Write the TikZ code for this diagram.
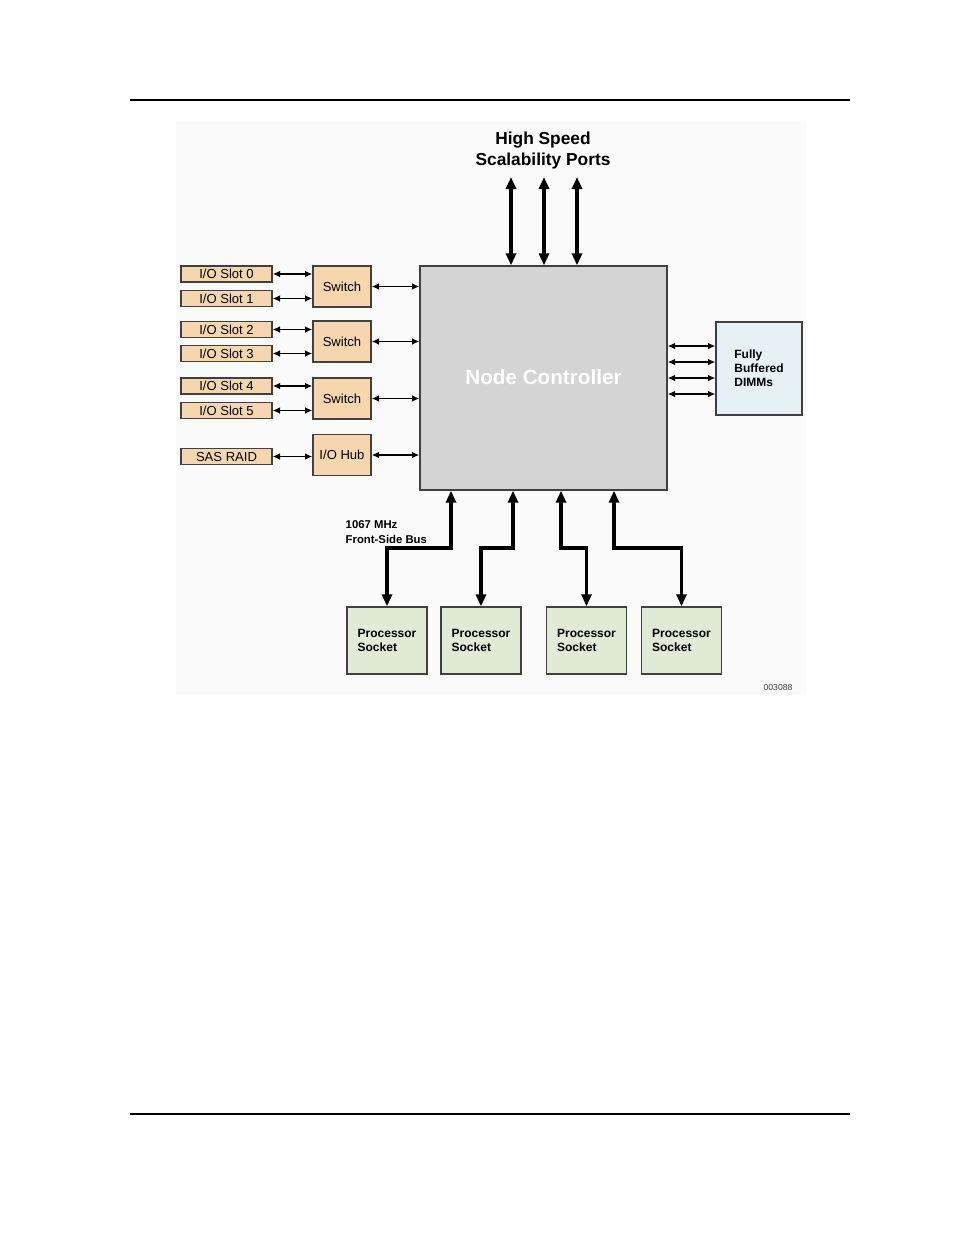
\documentclass[tikz,border=0pt]{standalone}
\usepackage{fontspec}
\setmainfont{Liberation Sans}
\usetikzlibrary{arrows.meta, positioning, calc}
\definecolor{cSlot}{RGB}{245, 214, 174}
\definecolor{cNode}{RGB}{212, 212, 212}
\definecolor{cDimm}{RGB}{229, 241, 245}
\definecolor{cCpu}{RGB}{224, 234, 213}
\definecolor{bBox}{RGB}{64, 64, 64}
\definecolor{cBack}{RGB}{250, 250, 250}

\begin{document}
\begin{tikzpicture}[
    x=0.75pt, y=-0.75pt,
    font=\fontsize{9.8}{11}\selectfont,
    block/.style={
        draw=bBox,
        line width=1pt,
        fill=#1,
        align=center,
        inner sep=0pt
    },
    slot/.style={block=cSlot, minimum width=68.25pt, minimum height=12pt},
    switchbox/.style={block=cSlot, minimum width=43.5pt, minimum height=30.75pt},
    cpu/.style={block=cCpu, minimum width=60pt, minimum height=50.25pt,
        align=left, font=\fontsize{9}{10.5}\selectfont\bfseries},
    arr/.style={{Latex[length=5.5pt,width=5pt]}-{Latex[length=5.5pt,width=5pt]}, line width=1pt},
    bigarr/.style={{Triangle[length=9pt,width=7.5pt]}-{Triangle[length=9pt,width=7.5pt]}, line width=2.6pt}
]
\useasboundingbox (0,0) rectangle (954,1235);

% page rules
\draw[line width=0.8pt] (130,100) -- (850,100);
\draw[line width=0.8pt] (130,1114) -- (850,1114);
\fill[cBack] (176,122) rectangle (806,694);

\node[font=\fontsize{13}{15.75}\selectfont\bfseries, align=center] (title) at (543,151) {High Speed\\Scalability Ports};

% Node controller
\node[block=cNode, minimum width=185.25pt, minimum height=168pt,
      font=\fontsize{15.5}{17}\selectfont\bfseries, text=white] (nc) at (543.5,378) {\raisebox{2pt}{Node Controller}};

% I/O slots
\node[slot] (slot0) at (226.5,274) {I/O Slot 0};
\node[slot] (slot1) at (226.5,298.5) {I/O Slot 1};
\node[slot] (slot2) at (226.5,329.5) {I/O Slot 2};
\node[slot] (slot3) at (226.5,353.5) {I/O Slot 3};
\node[slot] (slot4) at (226.5,386) {I/O Slot 4};
\node[slot] (slot5) at (226.5,410.5) {I/O Slot 5};
\node[slot] (raid) at (226.5,456.5) {SAS RAID};

\node[switchbox] (sw1) at (342,286.5) {Switch};
\node[switchbox] (sw2) at (342,341.5) {Switch};
\node[switchbox] (sw3) at (342,398.5) {Switch};
\node[switchbox] (hub) at (342,455) {I/O Hub};

\draw[arr] (slot0.east) -- (slot0.east -| sw1.west);
\draw[arr] (slot1.east) -- (slot1.east -| sw1.west);
\draw[arr] (slot2.east) -- (slot2.east -| sw2.west);
\draw[arr] (slot3.east) -- (slot3.east -| sw2.west);
\draw[arr] (slot4.east) -- (slot4.east -| sw3.west);
\draw[arr] (slot5.east) -- (slot5.east -| sw3.west);
\draw[arr] (raid.east) -- (raid.east -| hub.west);

\foreach \s in {sw1, sw2, sw3, hub}
    \draw[arr] (\s.east) -- (\s.east -| nc.west);

% Scalability ports
\foreach \xx in {511, 544, 577}
    \draw[bigarr] (\xx,177) -- (\xx,177 |- nc.north);

% DIMMs
\node[block=cDimm, minimum width=64.5pt, minimum height=69.75pt, align=left,
      font=\fontsize{9}{10.5}\selectfont\bfseries] (dimm) at (759,368.5) {Fully\\Buffered\\DIMMs};

\foreach \yy in {346, 362, 378, 394}
    \draw[arr] (nc.east |- 0,\yy) -- (dimm.west |- 0,\yy);

% Processor sockets
\node[cpu] (cpu1) at (387,640.5) {Processor\\Socket};
\node[cpu] (cpu2) at (481,640.5) {Processor\\Socket};
\node[cpu] (cpu3) at (586.5,640.5) {Processor\\Socket};
\node[cpu] (cpu4) at (681.5,640.5) {Processor\\Socket};

\coordinate (f1) at (451,548);
\coordinate (f2) at (513,548);
\coordinate (f3) at (561,548);
\coordinate (f4) at (614,548);

\draw[bigarr] (f1 |- nc.south) -- (f1) -| (cpu1.north);
\draw[bigarr] (f2 |- nc.south) -- (f2) -| (cpu2.north);
\draw[bigarr] (f3 |- nc.south) -- (f3) -| (cpu3.north);
\draw[bigarr] (f4 |- nc.south) -- (f4) -| (cpu4.north);

\node[font=\fontsize{8.5}{11.5}\selectfont\bfseries, align=left, anchor=west] (fsb) at (341,532) {1067 MHz\\Front-Side Bus};

\node[font=\fontsize{6.5}{8}\selectfont, text=black!75] (tag) at (778,688) {003088};

\end{tikzpicture}
\end{document}
